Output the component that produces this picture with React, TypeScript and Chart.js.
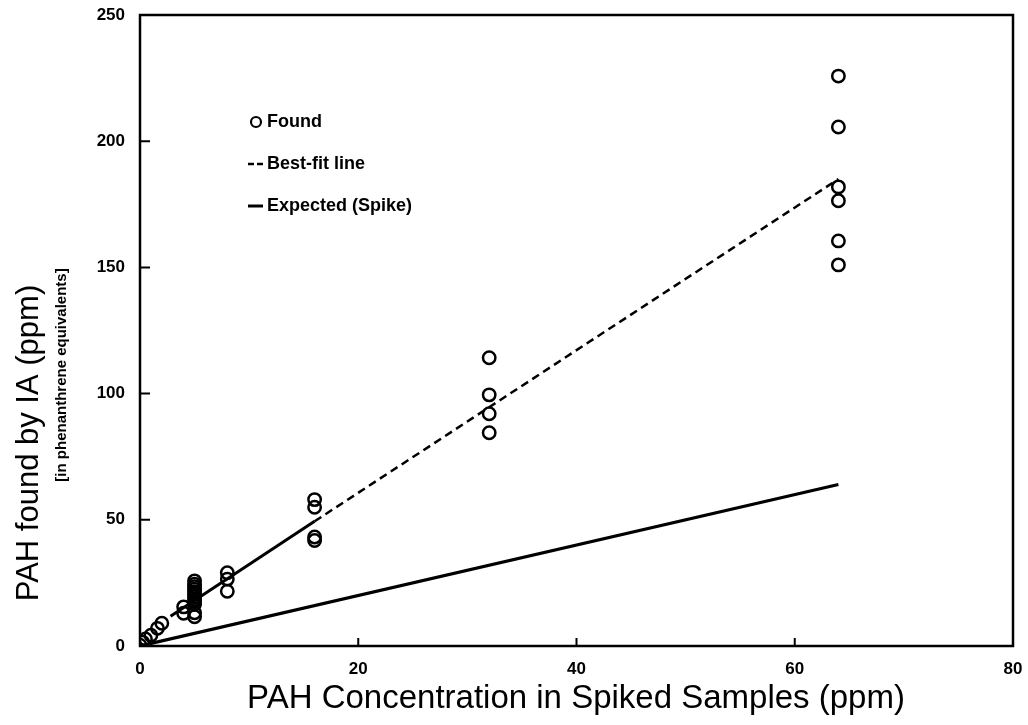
import React, { useEffect, useRef } from "react";
import { Chart, registerables } from "chart.js";

Chart.register(...registerables);

// ---- data ----
const xTickValues = [0, 20, 40, 60, 80];
const yTickValues = [0, 50, 100, 150, 200, 250];

const foundX = [
  0, 0.25, 0.5, 1, 1.6, 2, 4, 4,
  5, 5, 5, 5, 5, 5, 5, 5, 5, 5, 5, 5,
  8, 8, 8,
  16, 16, 16, 16,
  32, 32, 32, 32,
  64, 64, 64, 64, 64, 64,
];
const foundY = [
  0.3, 1.5, 2.8, 4.3, 7, 9, 13, 15.5,
  11.6, 13.2, 16.5, 17.5, 18.5, 19.5, 20.5, 21.5, 22.5, 23.5, 24.5, 25.8,
  29, 26.5, 21.7,
  58, 55, 43.2, 41.8,
  114.2, 99.5, 92, 84.5,
  225.8, 205.6, 181.9, 176.4, 160.5, 151,
];

const fitSolidX = [2.8, 16];
const fitSolidY = [11.8, 49.4];
const fitDashX = [16, 64];
const fitDashY = [49.4, 185];
const expectedX = [0, 64];
const expectedY = [0, 64];

const legendLabels = ["Found", "Best-fit line", "Expected (Spike)"];
const xTitle = "PAH Concentration in Spiked Samples (ppm)";
const yTitle = "PAH found by IA (ppm)";
const ySubtitle = "[in phenanthrene equivalents]";

const toPoints = (xs: number[], ys: number[]) => xs.map((x, i) => ({ x, y: ys[i] }));

const FONT = "'Liberation Sans', Arial, sans-serif";

const decorPlugin = {
  id: "decor",
  afterDraw(chart: any) {
    const { ctx, chartArea } = chart;
    const xs = chart.scales.x;
    const ys = chart.scales.y;
    const { left, right, top, bottom } = chartArea;
    ctx.save();
    ctx.strokeStyle = "#000";
    ctx.fillStyle = "#000";
    // frame
    ctx.lineWidth = 2.5;
    ctx.strokeRect(left, top, right - left, bottom - top);
    // inward ticks
    ctx.lineWidth = 2;
    ctx.beginPath();
    yTickValues.forEach((v) => {
      const py = ys.getPixelForValue(v);
      ctx.moveTo(left, py);
      ctx.lineTo(left + 10, py);
    });
    xTickValues.forEach((v) => {
      const px = xs.getPixelForValue(v);
      ctx.moveTo(px, bottom);
      ctx.lineTo(px, bottom - 8);
    });
    ctx.stroke();

    // axis titles
    ctx.textAlign = "center";
    ctx.textBaseline = "middle";
    ctx.font = `33px ${FONT}`;
    ctx.fillText(xTitle, 576, 699);

    ctx.save();
    ctx.translate(29, 443);
    ctx.rotate(-Math.PI / 2);
    ctx.font = `31px ${FONT}`;
    ctx.fillText(yTitle, 0, 0);
    ctx.restore();

    ctx.save();
    ctx.translate(62, 375);
    ctx.rotate(-Math.PI / 2);
    ctx.font = `bold 15px ${FONT}`;
    ctx.fillText(ySubtitle, 0, 0);
    ctx.restore();

    // legend
    const lx = 250;
    const tx = 267;
    const rows = [122, 164, 206];
    ctx.textAlign = "left";
    ctx.font = `bold 18px ${FONT}`;
    ctx.lineWidth = 2.2;
    ctx.beginPath();
    ctx.arc(lx + 6, rows[0], 5, 0, Math.PI * 2);
    ctx.stroke();
    ctx.lineWidth = 2.5;
    ctx.beginPath();
    ctx.moveTo(lx - 2, rows[1]);
    ctx.lineTo(lx + 4, rows[1]);
    ctx.moveTo(lx + 7, rows[1]);
    ctx.lineTo(lx + 13, rows[1]);
    ctx.stroke();
    ctx.lineWidth = 3;
    ctx.beginPath();
    ctx.moveTo(lx - 2, rows[2]);
    ctx.lineTo(lx + 13, rows[2]);
    ctx.stroke();
    legendLabels.forEach((t, i) => ctx.fillText(t, tx, rows[i]));
    ctx.restore();
  },
};

export default function App() {
  const ref = useRef<HTMLCanvasElement | null>(null);
  useEffect(() => {
    document.body.style.margin = "0";
    const canvas = ref.current;
    if (!canvas) return;
    const tickFont = { family: FONT, size: 17, weight: "bold" as const };
    const chart = new Chart(canvas, {
      type: "scatter",
      data: {
        datasets: [
          {
            label: legendLabels[0],
            data: toPoints(foundX, foundY),
            pointStyle: "circle",
            pointRadius: 6.2,
            borderWidth: 2.5,
            borderColor: "#000",
            backgroundColor: "rgba(0,0,0,0)",
            showLine: false,
          },
          {
            label: legendLabels[1],
            data: toPoints(fitSolidX, fitSolidY),
            showLine: true,
            pointRadius: 0,
            borderColor: "#000",
            borderWidth: 3,
          },
          {
            label: legendLabels[1] + " (dashed)",
            data: toPoints(fitDashX, fitDashY),
            showLine: true,
            pointRadius: 0,
            borderColor: "#000",
            borderWidth: 2.5,
            borderDash: [8, 5],
          },
          {
            label: legendLabels[2],
            data: toPoints(expectedX, expectedY),
            showLine: true,
            pointRadius: 0,
            borderColor: "#000",
            borderWidth: 3.2,
          },
        ],
      },
      options: {
        responsive: false,
        devicePixelRatio: 1,
        animation: false,
        layout: { padding: { left: 0, right: 15, top: 15, bottom: 0 } },
        plugins: { legend: { display: false }, tooltip: { enabled: false } },
        scales: {
          x: {
            type: "linear",
            min: 0,
            max: 80,
            afterFit: (s: any) => {
              s.height = 79;
            },
            afterBuildTicks: (s: any) => {
              s.ticks = xTickValues.map((v) => ({ value: v }));
            },
            ticks: { color: "#000", font: tickFont, padding: 0, maxRotation: 0 },
            grid: { display: false, drawTicks: true, tickLength: 13 },
            border: { display: false },
          },
          y: {
            type: "linear",
            min: 0,
            max: 250,
            afterFit: (s: any) => {
              s.width = 140;
            },
            afterBuildTicks: (s: any) => {
              s.ticks = yTickValues.map((v) => ({ value: v }));
            },
            ticks: { color: "#000", font: tickFont, padding: 0 },
            grid: { display: false, drawTicks: true, tickLength: 15 },
            border: { display: false },
          },
        },
      },
      plugins: [decorPlugin],
    });
    return () => chart.destroy();
  }, []);
  return (
    <div style={{ width: 1028, height: 725, background: "#fff" }}>
      <canvas ref={ref} width={1028} height={725} style={{ display: "block", width: 1028, height: 725 }} />
    </div>
  );
}
